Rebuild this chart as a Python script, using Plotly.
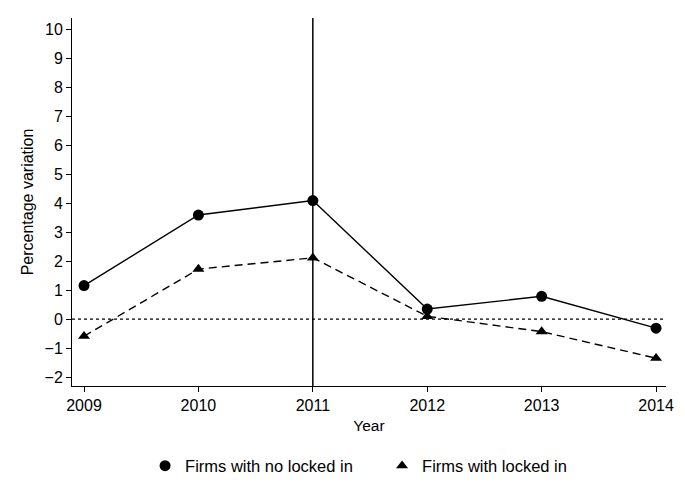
import plotly.graph_objects as go

years = [2009, 2010, 2011, 2012, 2013, 2014]
no_locked = [1.16, 3.6, 4.1, 0.35, 0.79, -0.31]
locked = [-0.59, 1.73, 2.12, 0.1, -0.43, -1.35]
y_ticks = list(range(-2, 11))
event_year = 2011

FONT = "Liberation Sans, Arial, sans-serif"

fig = go.Figure()
# lines (no legend entry)
fig.add_trace(go.Scatter(
    x=years, y=no_locked, mode="lines", showlegend=False, hoverinfo="skip",
    line=dict(color="black", width=1.4),
))
fig.add_trace(go.Scatter(
    x=years, y=locked, mode="lines", showlegend=False, hoverinfo="skip",
    line=dict(color="black", width=1.4, dash="8px,5px"),
))
# markers (legend entries)
fig.add_trace(go.Scatter(
    x=years, y=no_locked, mode="markers", name="Firms with no locked in",
    marker=dict(symbol="circle", size=11, color="black"),
))
fig.add_trace(go.Scatter(
    x=years, y=locked, mode="markers", name="Firms with locked in",
    marker=dict(symbol="triangle-up", size=10.5, color="black"),
))

fig.add_shape(type="line", xref="paper", yref="y", x0=0, x1=1, y0=0, y1=0,
              line=dict(color="black", width=1.3, dash="3px,3px"), layer="below")
fig.add_shape(type="line", xref="x", yref="paper", x0=event_year, x1=event_year, y0=0, y1=1,
              line=dict(color="black", width=1.5))

# page body has an 8px margin: figure is offset by (8, 8)
fig.update_layout(
    width=677, height=484,
    margin=dict(l=64, r=19, t=10, b=105),
    paper_bgcolor="white", plot_bgcolor="white",
    font=dict(family=FONT, size=16, color="black"),
    showlegend=True,
    legend=dict(orientation="h", x=0.123, xanchor="left", y=-0.214, yanchor="middle",
                font=dict(size=16.5), itemwidth=30, tracegroupgap=0,
                entrywidth=192, entrywidthmode="pixels"),
    xaxis=dict(
        range=[2008.895, 2014.087], tickmode="array", tickvals=years,
        ticktext=[str(y) for y in years], automargin=False,
        showgrid=False, zeroline=False, showline=True, linecolor="black", linewidth=1,
        ticks="outside", ticklen=5, tickcolor="black", tickfont=dict(size=16),
        title=dict(text="Year", standoff=6, font=dict(size=15.5)),
    ),
    yaxis=dict(
        range=[-2.31, 10.41], tickmode="array", tickvals=y_ticks, automargin=False,
        showgrid=False, zeroline=False, showline=True, linecolor="black", linewidth=1,
        ticks="outside", ticklen=5, tickcolor="black", tickfont=dict(size=16),
        title=dict(text="Percentage variation", standoff=6, font=dict(size=16)),
    ),
)

fig.write_html("out.html")
